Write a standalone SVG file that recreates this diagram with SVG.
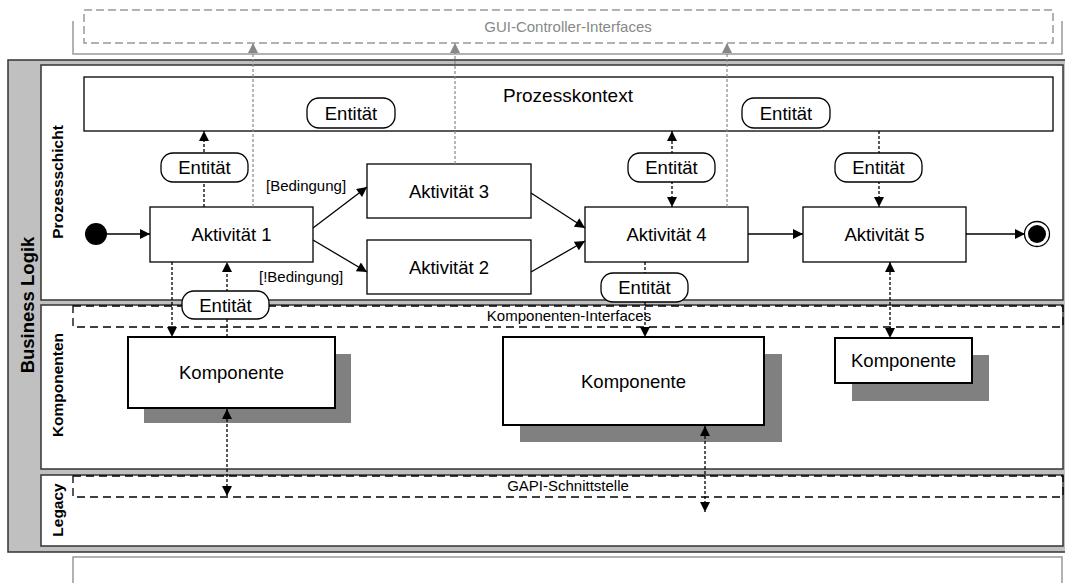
<svg xmlns="http://www.w3.org/2000/svg" width="1065" height="583" viewBox="0 0 1065 583">
<defs>
<style>
text{font-family:"Liberation Sans",Arial,sans-serif;fill:#000}
.big{font-size:18.5px;text-anchor:middle}
.sm{font-size:15px}
.lane{font-size:15.5px;font-weight:bold;text-anchor:middle}
.panel{fill:#fff;stroke:#333;stroke-width:1.5}
.act{fill:#fff;stroke:#000;stroke-width:1.3}
.pill{fill:#fff;stroke:#000;stroke-width:1.3}
.comp{fill:#fff;stroke:#000;stroke-width:2}
.shadow{fill:#808080}
.solid{stroke:#000;stroke-width:1.3;fill:none}
.dot{stroke:#000;stroke-width:1.3;stroke-dasharray:3 2;fill:none}
.gdot{stroke:#888;stroke-width:1.2;stroke-dasharray:3 2;fill:none}
.iface{fill:none;stroke:#000;stroke-width:1.3;stroke-dasharray:8 5}
</style>
<marker id="ah" viewBox="0 0 10 10" refX="10" refY="5" markerWidth="12" markerHeight="10" markerUnits="userSpaceOnUse" orient="auto-start-reverse"><path d="M0,0 L10,5 L0,10 z" fill="#000"/></marker>
<marker id="dh" viewBox="0 0 10 10" refX="10" refY="5" markerWidth="10" markerHeight="10" markerUnits="userSpaceOnUse" orient="auto-start-reverse"><path d="M0,0 L10,5 L0,10 z" fill="#000"/></marker>
<marker id="gh" viewBox="0 0 10 10" refX="10" refY="5" markerWidth="10" markerHeight="10" markerUnits="userSpaceOnUse" orient="auto-start-reverse"><path d="M0,0 L10,5 L0,10 z" fill="#888"/></marker>
</defs>

<g id="gui-interfaces">
<path d="M73,21 V54 H1062 V21" fill="none" stroke="#999" stroke-width="1.5"/>
<rect x="84" y="10" width="969" height="33" fill="none" stroke="#999" stroke-width="1.5" stroke-dasharray="8 4"/>
<text x="568" y="32" class="sm" text-anchor="middle" style="fill:#888">GUI-Controller-Interfaces</text>
</g>
<g id="bottom-bracket">
<path d="M73,583 V557 H1062 V583" fill="none" stroke="#999" stroke-width="1.5"/>
</g>

<g id="business-logik">
<rect x="8" y="60" width="1062" height="492" fill="#c0c0c0" stroke="#333" stroke-width="1.5"/>
<text transform="translate(34,305) rotate(-90)" style="font-size:18.5px;font-weight:bold;text-anchor:middle">Business Logik</text>
</g>
<g id="lane-prozessschicht">
<rect class="panel" x="41" y="65" width="1022" height="235"/>
<text class="lane" transform="translate(63,182) rotate(-90)">Prozessschicht</text>
</g>
<g id="lane-komponenten">
<rect class="panel" x="41" y="305" width="1022" height="164"/>
<text class="lane" transform="translate(63,385) rotate(-90)">Komponenten</text>
</g>
<g id="lane-legacy">
<rect class="panel" x="41" y="475" width="1022" height="71"/>
<text class="lane" transform="translate(63,510) rotate(-90)">Legacy</text>
</g>

<g id="komponenten-interfaces">
<rect class="iface" x="73" y="306" width="990" height="21"/>
<text x="569" y="321" class="sm" text-anchor="middle">Komponenten-Interfaces</text>
</g>
<g id="gapi-schnittstelle">
<rect class="iface" x="73" y="476" width="990" height="21"/>
<text x="568" y="491" class="sm" text-anchor="middle">GAPI-Schnittstelle</text>
</g>

<g id="prozesskontext">
<rect x="84" y="77" width="969" height="54" fill="none" stroke="#000" stroke-width="1.3"/>
<text x="568" y="102" style="font-size:19px;text-anchor:middle">Prozesskontext</text>
</g>

<g id="start"><circle cx="96" cy="234" r="11" fill="#000"/></g>
<g id="end"><circle cx="1037" cy="234" r="12.5" fill="#fff" stroke="#000" stroke-width="1.3"/><circle cx="1037" cy="234" r="9" fill="#000"/></g>

<g id="aktivitaet1"><rect class="act" x="150" y="207" width="163" height="55"/><text class="big" x="231.5" y="241">Aktivität 1</text></g>
<g id="aktivitaet3"><rect class="act" x="367" y="164" width="164" height="54"/><text class="big" x="449" y="197.5">Aktivität 3</text></g>
<g id="aktivitaet2"><rect class="act" x="367" y="240" width="164" height="54"/><text class="big" x="449" y="273.5">Aktivität 2</text></g>
<g id="aktivitaet4"><rect class="act" x="585" y="207" width="163" height="55"/><text class="big" x="666.5" y="241">Aktivität 4</text></g>
<g id="aktivitaet5"><rect class="act" x="803" y="207" width="163" height="55"/><text class="big" x="884.5" y="241">Aktivität 5</text></g>

<g id="komponente1"><rect class="shadow" x="144" y="354" width="207" height="69"/><rect class="comp" x="128" y="337" width="207" height="71"/><text class="big" x="231.5" y="378.5">Komponente</text></g>
<g id="komponente2"><rect class="shadow" x="520" y="354" width="262" height="88"/><rect class="comp" x="503" y="337" width="261" height="88"/><text class="big" x="633.5" y="387.5">Komponente</text></g>
<g id="komponente3"><rect class="shadow" x="852" y="355" width="137" height="46"/><rect class="comp" x="835" y="338" width="137" height="45"/><text class="big" x="903.5" y="367">Komponente</text></g>

<g id="connectors">
<line class="gdot" x1="253" y1="207" x2="253" y2="43" marker-end="url(#gh)"/>
<line class="gdot" x1="455" y1="164" x2="455" y2="43" marker-end="url(#gh)"/>
<line class="gdot" x1="727" y1="207" x2="727" y2="43" marker-end="url(#gh)"/>

<line class="solid" x1="107" y1="234" x2="150" y2="234" marker-end="url(#ah)"/>
<line class="solid" x1="313" y1="228" x2="367" y2="187" marker-end="url(#ah)"/>
<line class="solid" x1="313" y1="240" x2="367" y2="272" marker-end="url(#ah)"/>
<line class="solid" x1="531" y1="193" x2="585" y2="228" marker-end="url(#ah)"/>
<line class="solid" x1="531" y1="272" x2="585" y2="241" marker-end="url(#ah)"/>
<line class="solid" x1="748" y1="234" x2="803" y2="234" marker-end="url(#ah)"/>
<line class="solid" x1="966" y1="234" x2="1025" y2="234" marker-end="url(#ah)"/>

<line class="dot" x1="204" y1="207" x2="204" y2="131" marker-end="url(#dh)"/>
<line class="dot" x1="672" y1="131" x2="672" y2="207" marker-start="url(#dh)" marker-end="url(#dh)"/>
<line class="dot" x1="879" y1="131" x2="879" y2="207" marker-end="url(#dh)"/>
<line class="dot" x1="172" y1="262" x2="172" y2="337" marker-end="url(#dh)"/>
<line class="dot" x1="227" y1="337" x2="227" y2="262" marker-end="url(#dh)"/>
<line class="dot" x1="645" y1="262" x2="645" y2="337" marker-end="url(#dh)"/>
<line class="dot" x1="890" y1="262" x2="890" y2="338" marker-start="url(#dh)" marker-end="url(#dh)"/>
<line class="dot" x1="227" y1="409" x2="227" y2="496" marker-start="url(#dh)" marker-end="url(#dh)"/>
<line class="dot" x1="705" y1="426" x2="705" y2="512" marker-start="url(#dh)" marker-end="url(#dh)"/>
</g>

<g id="label-bedingung"><text class="sm" x="266" y="191">[Bedingung]</text></g>
<g id="label-nicht-bedingung"><text class="sm" x="259" y="282">[!Bedingung]</text></g>

<g id="entitaet-pk1"><rect class="pill" x="307" y="98" width="88" height="30" rx="12"/><text class="big" x="351" y="119.5">Entität</text></g>
<g id="entitaet-pk2"><rect class="pill" x="742" y="98" width="88" height="30" rx="12"/><text class="big" x="786" y="119.5">Entität</text></g>
<g id="entitaet-a1-top"><rect class="pill" x="161" y="153" width="87" height="29" rx="12"/><text class="big" x="204.5" y="174">Entität</text></g>
<g id="entitaet-a4-top"><rect class="pill" x="628" y="153" width="87" height="29" rx="12"/><text class="big" x="671.5" y="174">Entität</text></g>
<g id="entitaet-a5-top"><rect class="pill" x="835" y="153" width="87" height="29" rx="12"/><text class="big" x="878.5" y="174">Entität</text></g>
<g id="entitaet-a1-bottom"><rect class="pill" x="182" y="291" width="87" height="28" rx="12"/><text class="big" x="225.5" y="311.5">Entität</text></g>
<g id="entitaet-a4-bottom"><rect class="pill" x="601" y="273" width="87" height="29" rx="12"/><text class="big" x="644.5" y="294">Entität</text></g>
</svg>
